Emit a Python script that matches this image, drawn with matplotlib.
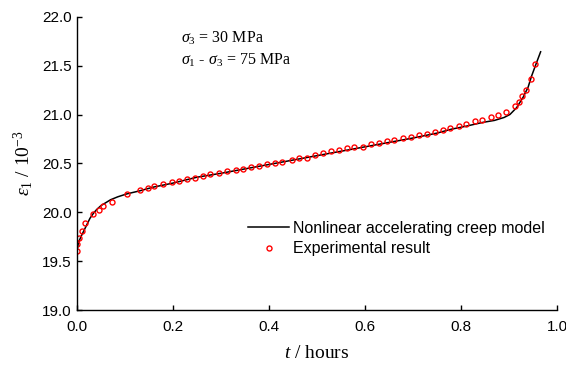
import numpy as np
import matplotlib
matplotlib.use("Agg")
import matplotlib.pyplot as plt

plt.rcParams['font.family'] = ['Liberation Sans', 'DejaVu Sans']
plt.rcParams['mathtext.fontset'] = 'custom'
plt.rcParams['mathtext.rm'] = 'Liberation Serif'
plt.rcParams['mathtext.it'] = 'Liberation Serif:italic'

# model curve
t_model = [0.0, 0.003, 0.008, 0.013, 0.02, 0.027, 0.034, 0.041, 0.05, 0.06,
           0.07, 0.085, 0.104, 0.13, 0.16, 0.2, 0.25, 0.3, 0.4, 0.5,
           0.6, 0.7, 0.75, 0.78, 0.81, 0.846, 0.87, 0.89, 0.902, 0.916,
           0.93, 0.94, 0.947, 0.956, 0.966]
eps_model = [19.61, 19.69, 19.75, 19.80, 19.87, 19.94, 19.99, 20.03, 20.07, 20.10,
             20.13, 20.16, 20.19, 20.22, 20.26, 20.30, 20.36, 20.40, 20.49, 20.58,
             20.67, 20.76, 20.81, 20.85, 20.88, 20.92, 20.94, 20.97, 21.00, 21.07,
             21.18, 21.28, 21.39, 21.51, 21.64]

# experimental points
t_exp = [0.0, 0.001, 0.005, 0.011, 0.017, 0.033, 0.045, 0.054, 0.072, 0.104,
         0.131, 0.147, 0.161, 0.180, 0.197, 0.213, 0.229, 0.246, 0.262, 0.278,
         0.296, 0.312, 0.331, 0.346, 0.363, 0.379, 0.395, 0.413, 0.428, 0.447,
         0.462, 0.480, 0.496, 0.513, 0.529, 0.545, 0.562, 0.578, 0.596, 0.613,
         0.630, 0.645, 0.660, 0.679, 0.695, 0.712, 0.729, 0.746, 0.762, 0.778,
         0.796, 0.811, 0.829, 0.844, 0.863, 0.878, 0.894, 0.912, 0.921, 0.927,
         0.936, 0.946, 0.955]
eps_exp = [19.61, 19.68, 19.74, 19.81, 19.89, 19.98, 20.03, 20.07, 20.11, 20.19,
           20.23, 20.25, 20.27, 20.29, 20.31, 20.32, 20.34, 20.35, 20.37, 20.39,
           20.40, 20.42, 20.43, 20.44, 20.46, 20.47, 20.49, 20.50, 20.52, 20.54,
           20.56, 20.56, 20.59, 20.61, 20.63, 20.64, 20.66, 20.67, 20.67, 20.70,
           20.71, 20.73, 20.74, 20.76, 20.77, 20.79, 20.80, 20.82, 20.84, 20.86,
           20.88, 20.90, 20.93, 20.94, 20.97, 21.00, 21.03, 21.09, 21.13, 21.19,
           21.25, 21.36, 21.52]

fig = plt.figure(figsize=(5.66, 3.67), dpi=100)
ax = fig.add_axes([0.136, 0.154, 0.848, 0.801])

ax.plot(t_model, eps_model, color='black', lw=1.1, label='Nonlinear accelerating creep model')
ax.plot(t_exp, eps_exp, 'o', ms=3.6, mfc='none', mec='red', mew=1.0, label='Experimental result')

ax.set_xlim(0, 1.0)
ax.set_ylim(19.0, 22.0)
ax.set_xticks(np.arange(0, 1.01, 0.2))
ax.set_yticks(np.arange(19.0, 22.01, 0.5))
ax.xaxis.set_major_formatter(plt.FormatStrFormatter('%.1f'))
ax.yaxis.set_major_formatter(plt.FormatStrFormatter('%.1f'))
ax.tick_params(direction='in', length=3.5, width=1, labelsize=11)
ax.tick_params(axis='x', pad=6.5)
ax.tick_params(axis='y', pad=4)
ax.spines['top'].set_visible(False)
ax.spines['right'].set_visible(False)
for s in ['left', 'bottom']:
    ax.spines[s].set_linewidth(1.0)

ax.set_xlabel(r'$t$ / hours', fontsize=14, family='Liberation Serif', labelpad=8)
ax.set_ylabel(r'$\varepsilon_1$ / 10$^{-3}$', fontsize=14, family='Liberation Serif', labelpad=5)

ax.text(0.217, 0.925, r'$\sigma_3$ = 30 MPa', transform=ax.transAxes, fontsize=11.5,
        family='Liberation Serif', va='center')
ax.text(0.217, 0.852, r'$\sigma_1$ - $\sigma_3$ = 75 MPa', transform=ax.transAxes, fontsize=11.5,
        family='Liberation Serif', va='center')

ax.legend(loc='center left', bbox_to_anchor=(0.356, 0.245), frameon=False, fontsize=11.5,
          handlelength=2.6, handletextpad=0.2, labelspacing=0.35, borderpad=0,
          borderaxespad=0)

fig.savefig('out.png', dpi=100)
